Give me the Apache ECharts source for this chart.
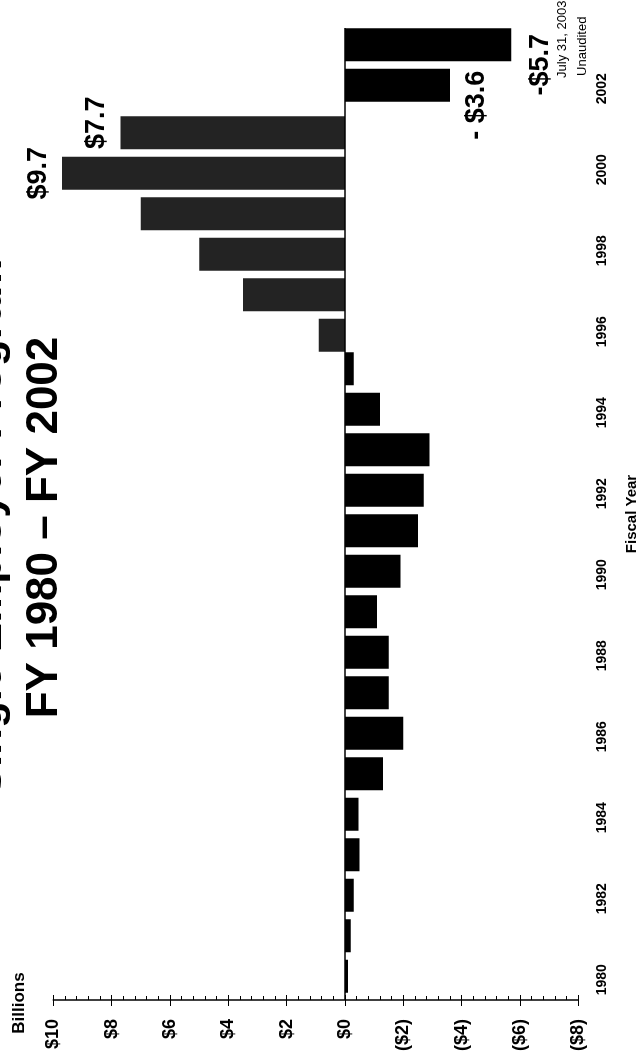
<!DOCTYPE html>
<html>
<head>
<meta charset="utf-8">
<script src="https://cdn.jsdelivr.net/npm/echarts@6/dist/echarts.min.js"></script>
<style>
html, body { margin: 0; padding: 0; background: #fff; overflow: hidden; width: 641px; height: 1063px; }
#chart { position: absolute; left: 0; top: 0; width: 1063px; height: 641px;
  transform-origin: 0 0; transform: translateY(1063px) rotate(-90deg); background: #fff; }
</style>
</head>
<body>
<div id="chart"></div>
<script>
// ---- data ----
const years = ['1980','1981','1982','1983','1984','1985','1986','1987','1988','1989','1990','1991',
               '1992','1993','1994','1995','1996','1997','1998','1999','2000','2001','2002','2003'];
const values = [-0.1, -0.2, -0.3, -0.5, -0.46, -1.3, -2.0, -1.5, -1.5, -1.1, -1.9, -2.5,
                -2.7, -2.9, -1.2, -0.3, 0.9, 3.5, 5.0, 7.0, 9.7, 7.7, -3.6, -5.7];
const tickValues = [10, 8, 6, 4, 2, 0, -2, -4, -6, -8];
const tickLabels = ['$10', '$8', '$6', '$4', '$2', '$0', '($2)', '($4)', '($6)', '($8)'];
const labelYears = ['2000', '2001', '2002', '2003'];
const labelTexts = ['$9.7', '$7.7', '- $3.6', '-$5.7'];
const noteYear = '2003';
const noteLines = ['July 31, 2003', 'Unaudited'];
const titleLines = ['Single Employer Program', 'FY 1980 \u2013 FY 2002'];
const valueAxisName = 'Billions';
const categoryAxisName = 'Fiscal Year';

// ---- styling (not data) ----
const FONT = '"Liberation Sans", Arial, Helvetica, sans-serif';
const labelStyle = {
  '2000': { distance: 10, offset: [0, 0] },
  '2001': { distance: 10, offset: [10, 0] },
  '2002': { distance: 13, offset: [-20, 0] },
  '2003': { distance: 16, offset: [-20, 0] }
};

function makeItem(v, i) {
  const y = years[i];
  const li = labelYears.indexOf(y);
  if (li < 0) return { value: v };
  const st = labelStyle[y];
  return {
    value: v,
    label: {
      show: true,
      position: v >= 0 ? 'top' : 'bottom',
      distance: st.distance,
      offset: st.offset,
      formatter: labelTexts[li],
      fontFamily: FONT, fontSize: 27, fontWeight: 'bold', color: '#000'
    }
  };
}
const posData = values.map((v, i) => v > 0 ? makeItem(v, i) : '-');
const negData = values.map((v, i) => v <= 0 ? makeItem(v, i) : '-');

const vMin = Math.min(...tickValues), vMax = Math.max(...tickValues);
const vStep = tickValues[0] - tickValues[1];

const chart = echarts.init(document.getElementById('chart'), null, { renderer: 'canvas' });
const option = {
  animation: false,
  backgroundColor: '#fff',
  textStyle: { fontFamily: FONT },
  grid: { left: 63, right: 28, top: 53.3, bottom: 62.7, containLabel: false, outerBoundsMode: 'none' },
  xAxis: {
    type: 'category',
    data: years,
    axisLine: { show: false, onZero: false },
    axisTick: { show: false },
    splitLine: { show: false },
    axisLabel: { interval: 1, fontSize: 14, fontWeight: 'bold', color: '#000', margin: 17, fontFamily: FONT },
    name: categoryAxisName,
    nameLocation: 'middle',
    nameGap: 46,
    nameTextStyle: { fontSize: 15, fontWeight: 'bold', color: '#000', fontFamily: FONT }
  },
  yAxis: [{
    type: 'value', min: vMin, max: vMax, interval: vStep, position: 'left',
    axisLine: { show: true, onZero: false, lineStyle: { color: '#000', width: 1.5 } },
    axisTick: { show: true, inside: true, length: 5, lineStyle: { color: '#000', width: 1 } },
    minorTick: { show: true, splitNumber: 5, length: 4, lineStyle: { color: '#000', width: 1 } },
    splitLine: { show: false },
    axisLabel: {
      color: '#000', fontSize: 18, fontWeight: 'bold', margin: 19, fontFamily: FONT,
      formatter: v => { const k = tickValues.indexOf(v); return k >= 0 ? tickLabels[k] : ''; }
    },
    name: valueAxisName, nameLocation: 'end', nameGap: 25,
    nameTextStyle: { fontSize: 17, fontWeight: 'bold', color: '#000', fontFamily: FONT, padding: [0, 6, 0, 0] }
  }, {
    type: 'value', min: vMin, max: vMax, interval: vStep, position: 'left',
    axisLine: { show: false, onZero: false },
    axisTick: { show: true, inside: false, length: 6, lineStyle: { color: '#000', width: 1 } },
    axisLabel: { show: false },
    splitLine: { show: false }
  }],
  series: [{
    name: 'surplus', type: 'bar', data: posData,
    barWidth: 33, barGap: '-78.8%',
    itemStyle: { color: '#232323' }
  }, {
    name: 'deficit', type: 'bar', data: negData,
    barWidth: 33, barGap: '-78.8%',
    itemStyle: { color: '#000' },
    markLine: {
      silent: true, symbol: ['none', 'none'], label: { show: false },
      lineStyle: { color: '#000', width: 1.5, type: 'solid' },
      data: [{ yAxis: 0 }]
    }
  }]
};
chart.setOption(option);

// annotations positioned through the chart's own scales
const ni = years.indexOf(noteYear);
const p = chart.convertToPixel({ xAxisIndex: 0, yAxisIndex: 0 }, [noteYear, values[ni]]);
const centerX = chart.getWidth() / 2;
chart.setOption({
  graphic: [
    { type: 'text', x: centerX + 4, y: -11, silent: true,
      style: { text: titleLines[0], font: 'bold 44px ' + FONT, fill: '#000',
               align: 'center', verticalAlign: 'middle', textAlign: 'center', textVerticalAlign: 'middle' } },
    { type: 'text', x: centerX + 4, y: 45, silent: true,
      style: { text: titleLines[1], font: 'bold 44px ' + FONT, fill: '#000',
               align: 'center', verticalAlign: 'middle', textAlign: 'center', textVerticalAlign: 'middle' } },
    { type: 'text', x: p[0] + 9, y: p[1] + 51.5, silent: true,
      style: { text: noteLines[0], font: '13px ' + FONT, fill: '#000',
               align: 'center', verticalAlign: 'middle', textAlign: 'center', textVerticalAlign: 'middle' } },
    { type: 'text', x: p[0] + 2, y: p[1] + 71.5, silent: true,
      style: { text: noteLines[1], font: '13px ' + FONT, fill: '#000',
               align: 'center', verticalAlign: 'middle', textAlign: 'center', textVerticalAlign: 'middle' } }
  ]
});
</script>
</body>
</html>
